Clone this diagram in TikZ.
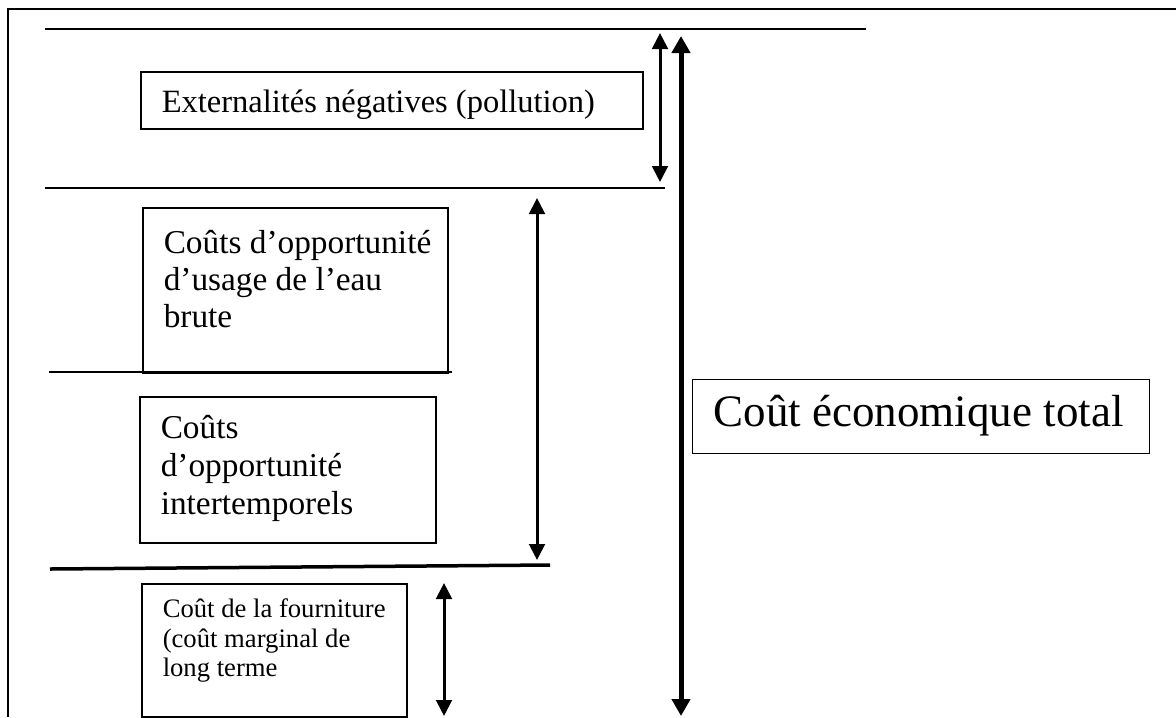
\documentclass[tikz,border=0pt]{standalone}
\usepackage{fontspec}
\setmainfont{Liberation Serif}
\usetikzlibrary{arrows.meta}

\newcommand{\boxtext}[6]{% width, height, first baseline, font size, baselineskip, text
  \parbox[c][#2][t]{#1}{\fontsize{#4}{#5}\selectfont\raggedright\setlength{\leftskip}{12.6pt}\rule{0pt}{#3}#6}}

\tikzset{
  frameline/.style={line width=1.2pt},
  sepline/.style={line width=0.9pt},
  costbox/.style={draw, line width=0.9pt, inner sep=0pt, anchor=north west},
  dblarrow/.style={line width=1.8pt, {Triangle[length=9.6pt,width=9.4pt]}-{Triangle[length=9.6pt,width=9.4pt]}},
  bigarrow/.style={line width=3pt, {Triangle[length=10.2pt,width=10.8pt]}-{Triangle[length=10.2pt,width=10.8pt]}},
}

\begin{document}
\begin{tikzpicture}[x=0.6pt, y=-0.6pt]
\useasboundingbox (0,0) rectangle (1176,717);

% outer frame (open at bottom and right)
\draw[frameline] (8,717) -- (8,9) -- (1176,9);

% separating lines
\coordinate (l1a) at (45,29);   \coordinate (l1b) at (866,29);
\coordinate (l2a) at (45,188);  \coordinate (l2b) at (665,188);
\coordinate (l3a) at (49,372);  \coordinate (l3b) at (452,372);
\coordinate (l4a) at (50,569);  \coordinate (l4b) at (550,565);
\draw[sepline] (l1a) -- (l1b);
\draw[sepline] (l2a) -- (l2b);
\draw[line width=1.2pt] (l3a) -- (l3b);
\draw[line width=2.1pt] (l4a) -- (l4b);

% boxes
\node[costbox] (ext) at (140,71)
  {\boxtext{301.2pt}{34.2pt}{24.6pt}{19.5pt}{23pt}{Externalités négatives (pollution)}};
\node[costbox] (brute) at (142,207)
  {\boxtext{183pt}{99pt}{27.6pt}{20pt}{22.2pt}{Coûts d’opportunité\\ d’usage de l’eau\\ brute}};
\node[costbox] (inter) at (139,396)
  {\boxtext{177.6pt}{87.6pt}{25.2pt}{20pt}{22.8pt}{Coûts\\ d’opportunité\\ intertemporels}};
\node[costbox] (fourn) at (141,583)
  {\boxtext{159pt}{79.8pt}{20.4pt}{16pt}{17.7pt}{Coût de la fourniture\\ (coût marginal de\\ long terme}};
\node[costbox, line width=0.7pt] (total) at (692,379)
  {\parbox[c][44.4pt][t]{274.2pt}{\fontsize{27pt}{30pt}\selectfont\hspace*{12.6pt}\rule{0pt}{28.2pt}Coût économique total}};

% arrows
\coordinate (a1t) at (660,33);  \coordinate (a1b) at (660,182);
\coordinate (a0t) at (681,36);  \coordinate (a0b) at (681,716);
\coordinate (a2t) at (537,198); \coordinate (a2b) at (537,560);
\coordinate (a3t) at (444,583); \coordinate (a3b) at (444,716);
\draw[dblarrow] (a1t) -- (a1b);
\draw[bigarrow] (a0t) -- (a0b);
\draw[dblarrow] (a2t) -- (a2b);
\draw[dblarrow] (a3t) -- (a3b);
\end{tikzpicture}
\end{document}
